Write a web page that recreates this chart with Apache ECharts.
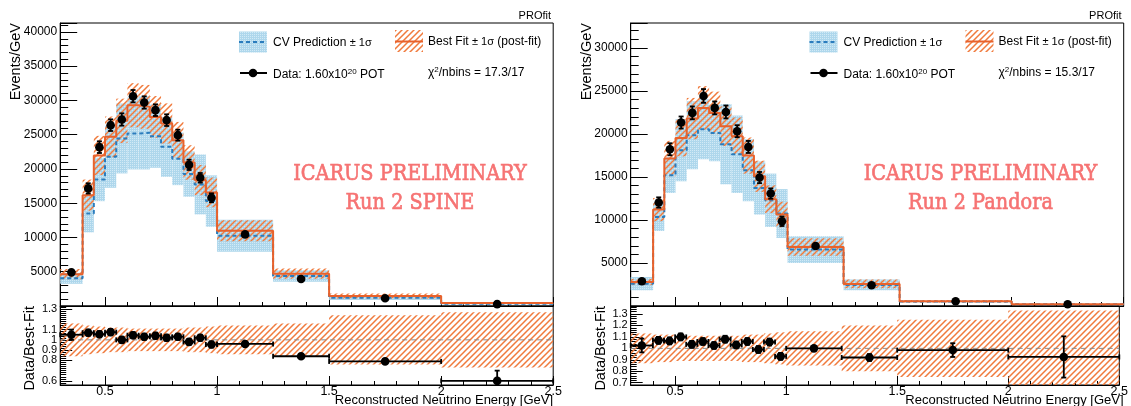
<!DOCTYPE html>
<html><head><meta charset="utf-8">
<script src="https://cdn.jsdelivr.net/npm/echarts@6/dist/echarts.min.js"></script>
<style>html,body{margin:0;padding:0;background:#fff}#c{width:1131px;height:406px}</style>
</head><body><div id="c"></div>
<script>
// ---------- DATA ----------
const binEdges = [0.3,0.4,0.45,0.5,0.55,0.6,0.65,0.7,0.75,0.8,0.85,0.9,0.95,1.0,1.25,1.5,2.0,2.5];
const xTickValues = [0.5,1,1.5,2,2.5];

// Run 2 SPINE
const spineFit     = [4650,16180,21970,24690,27020,29300,29060,27600,26640,24200,20950,18370,16580,10980,4720,1460,430];
const spineFitErr  = [740,2270,2860,2960,3240,3220,3200,3040,2930,2660,2510,2200,2160,1540,755,350,116];
const spineCV      = [4040,13510,18470,21770,24450,25180,25270,24790,23230,21480,19250,17740,15310,10250,4370,1210,330];
const spineCVErr   = [800,2760,3170,4520,5100,5250,5340,4620,4380,3840,3310,4370,3750,2330,830,340,100];
const spineData    = [4910,17160,23180,26390,27220,30620,29700,28580,27120,24930,20600,18710,15790,10450,3940,1130,270];
const spineDataErr = [300,750,850,850,900,900,900,850,850,800,750,700,650,250,150,60,40];
const spineRatio   = [1.05,1.07,1.055,1.075,1.0,1.045,1.03,1.04,1.02,1.03,0.98,1.02,0.955,0.96,0.84,0.79,0.60];
const spineRatioErr= [0.05,0.03,0.03,0.03,0.03,0.03,0.03,0.03,0.03,0.03,0.03,0.03,0.03,0.015,0.015,0.02,0.1];
const spineBand    = [0.16,0.14,0.13,0.12,0.12,0.11,0.11,0.11,0.11,0.11,0.12,0.12,0.13,0.14,0.16,0.24,0.27];
const spineYTicks  = [5000,10000,15000,20000,25000,30000,35000,40000];
const spineRatioTicks = [0.6,0.7,0.8,0.9,1,1.1,1.2,1.3];

// Run 2 Pandora
const pandFit      = [2790,11210,17140,19540,21790,23030,22450,20900,19740,17490,15080,12410,10630,6860,2560,550,200];
const pandFitErr   = [360,1350,2060,2150,2400,2530,2470,2300,2170,2100,1810,1610,1490,1030,510,140,66];
const pandCV       = [2600,10350,15200,18110,19850,20550,20120,18810,17640,15780,13720,12290,10750,6560,2450,520,190];
const pandCVErr    = [770,1630,2060,3610,3950,3490,3290,4660,4500,3600,3090,3100,2840,1560,620,100,40];
const pandData     = [2870,12030,18220,21330,22450,24420,23030,22560,20320,18490,14930,13070,9850,6980,2410,550,200];
const pandDataErr  = [200,600,700,700,750,800,750,750,700,700,650,600,550,200,120,50,30];
const pandRatio    = [1.025,1.07,1.065,1.10,1.035,1.06,1.025,1.08,1.03,1.06,0.99,1.055,0.93,1.0,0.92,0.985,0.925];
const pandRatioErr = [0.06,0.03,0.03,0.03,0.03,0.03,0.03,0.03,0.03,0.03,0.03,0.03,0.03,0.015,0.03,0.06,0.18];
const pandBand     = [0.13,0.12,0.12,0.11,0.11,0.11,0.11,0.11,0.11,0.12,0.12,0.13,0.14,0.15,0.2,0.25,0.33];
const pandYTicks   = [5000,10000,15000,20000,25000,30000];
const pandRatioTicks = [0.7,0.8,0.9,1,1.1,1.2,1.3];

// ---------- STYLE ----------
const FONT = 'Liberation Sans, Arial, sans-serif';
const ORANGE = '#e8622c', HATCH = '#f07a3c', BLUE = '#2a7cbd';
function makeHatch(color){
  const s = 6, c = document.createElement('canvas'); c.width = s; c.height = s;
  const g = c.getContext('2d'); g.strokeStyle = color; g.lineWidth = 1.5;
  g.beginPath();
  g.moveTo(0, s); g.lineTo(s, 0);
  g.moveTo(-1, 1); g.lineTo(1, -1);
  g.moveTo(s-1, s+1); g.lineTo(s+1, s-1);
  g.stroke();
  return c;
}
function makeDots(){
  const c = document.createElement('canvas'); c.width = 2; c.height = 2;
  const g = c.getContext('2d');
  g.fillStyle = '#aed7ec'; g.fillRect(0,0,2,2);
  g.fillStyle = '#d2eaf6'; g.fillRect(0,0,1,1);
  return c;
}
const hatchFill = {type:'pattern', image: makeHatch(HATCH), repeat:'repeat'};
const bandFill = {type:'pattern', image: makeDots(), repeat:'repeat'};

const panels = [
  {dx:0, fit:spineFit, fitErr:spineFitErr, cv:spineCV, cvErr:spineCVErr, data:spineData, dataErr:spineDataErr,
   ratio:spineRatio, ratioErr:spineRatioErr, band:spineBand, yMax:41300, yTicks:spineYTicks,
   rMin:0.56, rMax:1.33, rTicks:spineRatioTicks, chi:'17.3/17', label:'Run 2 SPINE'},
  {dx:570.5, fit:pandFit, fitErr:pandFitErr, cv:pandCV, cvErr:pandCVErr, data:pandData, dataErr:pandDataErr,
   ratio:pandRatio, ratioErr:pandRatioErr, band:pandBand, yMax:32900, yTicks:pandYTicks,
   rMin:0.68, rMax:1.37, rTicks:pandRatioTicks, chi:'15.3/17', label:'Run 2 Pandora'}
];

function binItems(vals, errs){
  return vals.map((v,i)=>[binEdges[i], binEdges[i+1], v, errs[i]]);
}
function stepPoints(vals){
  const pts = vals.map((v,i)=>[binEdges[i], v]);
  pts.push([binEdges[binEdges.length-1], vals[vals.length-1]]);
  return pts;
}
function bandRender(fill){
  return function(params, api){
    const lo=api.value(0), hi=api.value(1), c=api.value(2), e=api.value(3);
    const p1 = api.coord([lo, c+e]), p2 = api.coord([hi, c-e]);
    const cs = params.coordSys;
    const y1 = Math.max(p1[1], cs.y), y2 = Math.min(p2[1], cs.y+cs.height);
    return {type:'rect', shape:{x:p1[0], y:y1, width:p2[0]-p1[0], height:Math.max(0,y2-y1)}, style:{fill:fill}};
  };
}
function pointsRender(xerr){
  return function(params, api){
    const lo=api.value(0), hi=api.value(1), v=api.value(2), e=api.value(3);
    const xm=(lo+hi)/2;
    const c=api.coord([xm,v]), t=api.coord([xm,v+e]), b=api.coord([xm,v-e]);
    const cs=params.coordSys;
    const yt=Math.max(t[1],cs.y), yb=Math.min(b[1],cs.y+cs.height);
    const st={stroke:'#000', lineWidth:1.8};
    const ch=[];
    ch.push({type:'line', shape:{x1:c[0],y1:yt,x2:c[0],y2:yb}, style:st});
    if (t[1]>=cs.y) ch.push({type:'line', shape:{x1:c[0]-2.5,y1:yt,x2:c[0]+2.5,y2:yt}, style:st});
    if (b[1]<=cs.y+cs.height) ch.push({type:'line', shape:{x1:c[0]-2.5,y1:yb,x2:c[0]+2.5,y2:yb}, style:st});
    if (xerr){
      const l=api.coord([lo,v])[0], r=api.coord([hi,v])[0];
      ch.push({type:'line', shape:{x1:l,y1:c[1],x2:r,y2:c[1]}, style:st});
      ch.push({type:'line', shape:{x1:l,y1:c[1]-2.5,x2:l,y2:c[1]+2.5}, style:st});
      ch.push({type:'line', shape:{x1:r,y1:c[1]-2.5,x2:r,y2:c[1]+2.5}, style:st});
    }
    ch.push({type:'circle', shape:{cx:c[0], cy:c[1], r:4.3}, style:{fill:'#000'}});
    return {type:'group', children:ch};
  };
}

const option = {animation:false, grid:[], xAxis:[], yAxis:[], series:[], graphic:[]};
const tickStyle = {color:'#000', width:1};

panels.forEach((P, p)=>{
  const L = 60.2 + P.dx, W = 493;
  const g0 = 2*p, g1 = 2*p+1;
  option.grid.push({left:L, top:23, width:W, height:283, show:true, borderColor:'#000', borderWidth:1, backgroundColor:'#fff'});
  option.grid.push({left:L, top:306, width:W, height:79, show:true, borderColor:'#000', borderWidth:1, backgroundColor:'#fff'});
  [g0, g1].forEach((g, k)=>{
    option.xAxis.push({type:'value', gridIndex:g, position:'bottom', min:0.3, max:2.5, interval:0.1,
      axisLine:{show:true, onZero:false, lineStyle:tickStyle},
      axisTick:{show:true, inside:true, length:4, lineStyle:tickStyle},
      axisLabel:{show:false}, splitLine:{show:false}});
    option.xAxis.push({type:'value', gridIndex:g, position:'bottom', min:0.3, max:2.5,
      axisLine:{show:false, onZero:false},
      axisTick:{show:true, inside:true, length:9, customValues:xTickValues, lineStyle:tickStyle},
      axisLabel:{show:k===1, customValues:xTickValues, formatter:v=>String(v), color:'#000', fontSize:12.5, fontFamily:FONT, margin:0, showMinLabel:true, showMaxLabel:true},
      splitLine:{show:false}});
  });
  option.yAxis.push({type:'value', gridIndex:g0, position:'left', min:0, max:P.yMax, interval:5000,
    axisLine:{show:true, onZero:false, lineStyle:tickStyle},
    axisTick:{show:true, inside:true, length:17, lineStyle:tickStyle},
    minorTick:{show:true, splitNumber:5, length:8, lineStyle:tickStyle},
    axisLabel:{customValues:P.yTicks, formatter:v=>String(v), color:'#000', fontSize:12, fontFamily:FONT, margin:3, showMinLabel:true, showMaxLabel:true},
    splitLine:{show:false}, minorSplitLine:{show:false}});
  option.yAxis.push({type:'value', gridIndex:g0, show:false, min:0, max:1});
  option.yAxis.push({type:'value', gridIndex:g1, position:'left', min:P.rMin, max:P.rMax, interval:0.02,
    axisLine:{show:true, onZero:false, lineStyle:tickStyle},
    axisTick:{show:true, inside:true, length:6, lineStyle:tickStyle},
    axisLabel:{show:false}, splitLine:{show:false}});
  option.yAxis.push({type:'value', gridIndex:g1, position:'left', min:P.rMin, max:P.rMax,
    axisLine:{show:false, onZero:false},
    axisTick:{show:true, inside:true, length:12, customValues:P.rTicks, lineStyle:tickStyle},
    axisLabel:{customValues:P.rTicks, formatter:v=>(Math.abs(v-1)<1e-9?'1':v.toFixed(1)), color:'#000', fontSize:11, lineHeight:11, fontFamily:FONT, margin:3, showMinLabel:true, showMaxLabel:true, hideOverlap:false},
    splitLine:{show:false}});

  const xt = 4*p, yt = 4*p, xr = 4*p+2, yr = 4*p+2;
  option.series.push({type:'custom', name:'CV band', xAxisIndex:xt, yAxisIndex:yt, z:1,
    data:binItems(P.cv, P.cvErr), encode:{x:[0,1], y:2}, renderItem:bandRender(bandFill)});
  option.series.push({type:'custom', name:'Fit band', xAxisIndex:xt, yAxisIndex:yt, z:2,
    data:binItems(P.fit, P.fitErr), encode:{x:[0,1], y:2}, renderItem:bandRender(hatchFill)});
  option.series.push({type:'line', name:'CV', xAxisIndex:xt, yAxisIndex:yt, z:3, step:'end', symbol:'none',
    data:stepPoints(P.cv), lineStyle:{color:BLUE, width:2, type:[4,3]}});
  option.series.push({type:'line', name:'Best fit', xAxisIndex:xt, yAxisIndex:yt, z:4, step:'end', symbol:'none',
    data:stepPoints(P.fit), lineStyle:{color:ORANGE, width:2}});
  option.series.push({type:'custom', name:'Data', xAxisIndex:xt, yAxisIndex:yt, z:5,
    data:binItems(P.data, P.dataErr), encode:{x:[0,1], y:2}, renderItem:pointsRender(false)});
  option.series.push({type:'custom', name:'Ratio band', xAxisIndex:xr, yAxisIndex:yr, z:2,
    data:binItems(P.band.map(()=>1), P.band), encode:{x:[0,1], y:2}, renderItem:bandRender(hatchFill)});
  option.series.push({type:'line', name:'Unity', xAxisIndex:xr, yAxisIndex:yr, z:3, symbol:'none',
    data:[[binEdges[0],1],[binEdges[binEdges.length-1],1]], lineStyle:{color:'#8a8a8a', width:1, type:[5,4]}});
  option.series.push({type:'custom', name:'Ratio', xAxisIndex:xr, yAxisIndex:yr, z:5,
    data:binItems(P.ratio, P.ratioErr), encode:{x:[0,1], y:2}, renderItem:pointsRender(true)});

  const d = P.dx;
  const wm = {fill:'#f67373', stroke:'#f67373', lineWidth:0.7, fontFamily:'DejaVu Serif', fontSize:23, align:'center', verticalAlign:'middle'};
  option.graphic.push(
    {type:'text', x:16+d, y:23, rotation:Math.PI/2, z:100, style:{text:'Events/GeV', fill:'#000', fontFamily:FONT, fontSize:14.5, align:'right', verticalAlign:'middle'}},
    {type:'text', x:(p?601:29.5), y:306, rotation:Math.PI/2, z:100, style:{text:'Data/Best-Fit', fill:'#000', fontFamily:FONT, fontSize:14.5, align:'right', verticalAlign:'middle'}},
    {type:'text', x:553+d, y:400, z:100, style:{text:'Reconstructed Neutrino Energy [GeV]', fill:'#000', fontFamily:FONT, fontSize:13, align:'right', verticalAlign:'middle'}},
    {type:'text', x:551+d, y:16, z:100, style:{text:'PROfit', fill:'#000', fontFamily:FONT, fontSize:11, align:'right', verticalAlign:'middle'}},
    {type:'rect', z:100, shape:{x:239+d, y:31.5, width:28, height:21}, style:{fill:bandFill}},
    {type:'line', z:101, shape:{x1:239+d, y1:42, x2:267+d, y2:42}, style:{stroke:BLUE, lineWidth:2, lineDash:[4,3]}},
    {type:'text', z:100, x:273+d, y:43, style:{text:'CV Prediction {s|± 1σ}', fill:'#000', fontFamily:FONT, fontSize:12, verticalAlign:'middle', rich:{s:{fontFamily:FONT, fontSize:11, fill:'#000'}}}},
    {type:'rect', z:100, shape:{x:395+d, y:30, width:28, height:22}, style:{fill:hatchFill}},
    {type:'line', z:101, shape:{x1:395+d, y1:41.5, x2:423+d, y2:41.5}, style:{stroke:ORANGE, lineWidth:2}},
    {type:'text', z:100, x:428+d, y:42, style:{text:'Best Fit {s|± 1σ} (post-fit)', fill:'#000', fontFamily:FONT, fontSize:12, verticalAlign:'middle', rich:{s:{fontFamily:FONT, fontSize:11, fill:'#000'}}}},
    {type:'line', z:100, shape:{x1:240+d, y1:73, x2:267+d, y2:73}, style:{stroke:'#000', lineWidth:2}},
    {type:'circle', z:101, shape:{cx:253+d, cy:73, r:4.3}, style:{fill:'#000'}},
    {type:'text', z:100, x:273+d, y:75, style:{text:'Data: 1.60x10{sup|20} POT', fill:'#000', fontFamily:FONT, fontSize:12, verticalAlign:'middle', rich:{sup:{fontFamily:FONT, fontSize:8, fill:'#000', verticalAlign:'top', padding:[0,0,6,0]}}}},
    {type:'text', z:100, x:428+d, y:73, style:{text:'χ{sup|2}/nbins = '+P.chi, fill:'#000', fontFamily:FONT, fontSize:12, verticalAlign:'middle', rich:{sup:{fontFamily:FONT, fontSize:8, fill:'#000', verticalAlign:'top', padding:[0,0,6,0]}}}},
    {type:'text', z:100, x:410+d, y:174, scaleX:0.84, style:Object.assign({text:'ICARUS PRELIMINARY'}, wm)},
    {type:'text', z:100, x:410+d, y:203, scaleX:0.84, style:Object.assign({text:P.label}, wm)}
  );
});

const chart = echarts.init(document.getElementById('c'), null, {renderer:'canvas'});
chart.setOption(option);
</script>
</body></html>
